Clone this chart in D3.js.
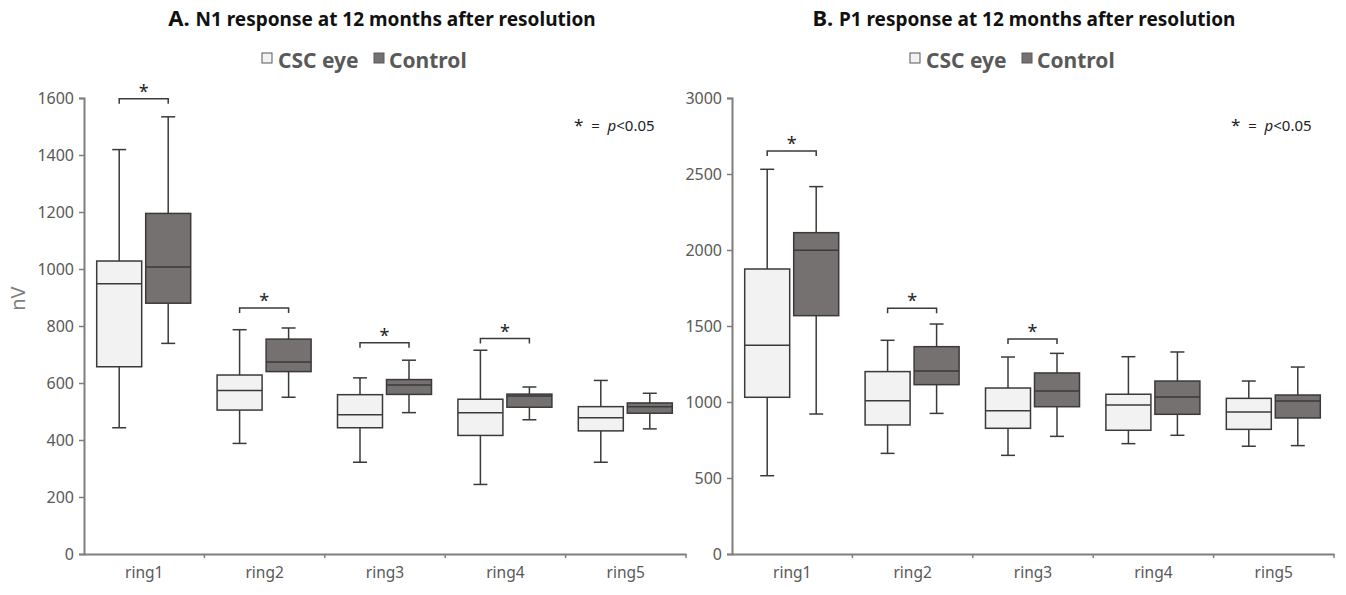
<!DOCTYPE html>
<html>
<head>
<meta charset="utf-8">
<script src="https://cdn.jsdelivr.net/npm/d3@7"></script>
<style>
  body { margin: 0; background: #fff; }
  text { font-family: "Noto Sans", "Open Sans", sans-serif; }
</style>
</head>
<body>
<svg id="chart" width="1346" height="595"></svg>
<script>
// categories
const rings = ["ring1", "ring2", "ring3", "ring4", "ring5"];

// box stats per ring: [min, q1, median, q3, max]
const n1Csc = [[443, 657, 948, 1028, 1419], [388, 505, 574, 628, 787], [322, 443, 489, 559, 618], [244, 416, 496, 543, 715], [322, 432, 478, 517, 609]];
const n1Control = [[739, 880, 1007, 1195, 1534], [550, 640, 674, 754, 793], [496, 560, 593, 612, 680], [471, 515, 554, 561, 586], [439, 494, 517, 530, 564]];
const p1Csc = [[515, 1031, 1373, 1875, 2531], [662, 849, 1009, 1200, 1406], [649, 827, 943, 1092, 1296], [726, 814, 980, 1051, 1298], [709, 820, 934, 1024, 1138]];
const p1Control = [[921, 1568, 1998, 2114, 2417], [925, 1114, 1204, 1364, 1513], [774, 969, 1072, 1191, 1320], [781, 919, 1033, 1138, 1329], [713, 895, 1007, 1046, 1230]];

// significance bracket heights (null = not significant)
const n1Sig = [1597, 863, 741, 756, null];
const p1Sig = [2651, 1616, 1414, null, null];

const n1Ticks = [0, 200, 400, 600, 800, 1000, 1200, 1400, 1600];
const p1Ticks = [0, 500, 1000, 1500, 2000, 2500, 3000];

const svg = d3.select("#chart");
const axisColor = "#7f7f7f";
const labelColor = "#595959";
const cscFill = "#f2f2f2";
const ctrlFill = "#767171";
const boxStroke = "#3a3a3a";

function drawPanel(opt) {
    const g = svg.append("g");
    const y = d3.scaleLinear().domain([0, opt.max]).range([554, 98]);
    const x = d3.scaleBand().domain(rings).range([opt.left, opt.left + 602]).padding(0);

    // title
    const title = g.append("text")
        .attr("x", opt.left + opt.titleDx).attr("y", 26)
        .attr("text-anchor", "middle")
        .attr("font-weight", "bold").attr("fill", "#111");
    title.append("tspan").attr("font-size", 22).text(opt.letter + " ");
    title.append("tspan").attr("font-size", 19).text(opt.title);

    // legend
    const lg = g.append("g").attr("transform", `translate(${opt.left + 178},61)`);
    lg.append("rect").attr("x", 0).attr("y", -8).attr("width", 10).attr("height", 10)
        .attr("fill", cscFill).attr("stroke", "#595959").attr("stroke-width", 1);
    lg.append("text").attr("x", 16).attr("y", 7).attr("font-size", 21).attr("font-weight", "bold")
        .attr("fill", labelColor).text("CSC eye");
    lg.append("rect").attr("x", 112).attr("y", -8).attr("width", 10).attr("height", 10)
        .attr("fill", ctrlFill).attr("stroke", "#595959").attr("stroke-width", 1);
    lg.append("text").attr("x", 127).attr("y", 7).attr("font-size", 21).attr("font-weight", "bold")
        .attr("fill", labelColor).text("Control");

    // y axis
    const ya = g.append("g").attr("transform", `translate(${opt.left},0)`)
        .call(d3.axisLeft(y).tickValues(opt.ticks).tickSize(5).tickPadding(5).tickFormat(d3.format("d")));
    ya.select(".domain").attr("stroke", axisColor).attr("stroke-width", 2);
    ya.selectAll(".tick line").attr("stroke", axisColor).attr("stroke-width", 1.5);
    ya.selectAll(".tick text").attr("fill", labelColor).attr("font-size", 16)
        .attr("font-family", "'Noto Sans', sans-serif");

    // x axis
    const xa = g.append("g").attr("transform", "translate(0,554)")
        .call(d3.axisBottom(x).tickSize(0).tickPadding(13));
    xa.select(".domain").attr("stroke", axisColor).attr("stroke-width", 2);
    xa.selectAll(".tick text").attr("fill", labelColor).attr("font-size", 15.5)
        .attr("font-family", "'Noto Sans', sans-serif");
    g.selectAll(".xsep").data(rings.slice(1).concat(["end"])).enter().append("line")
        .attr("x1", (d, i) => x.range()[0] + (i + 1) * x.bandwidth())
        .attr("x2", (d, i) => x.range()[0] + (i + 1) * x.bandwidth())
        .attr("y1", 554).attr("y2", 558)
        .attr("stroke", axisColor).attr("stroke-width", 1.5);

    // boxes
    const series = [
        { data: opt.csc, fill: cscFill, off: -25 },
        { data: opt.ctrl, fill: ctrlFill, off: 24 }
    ];
    const bw = 45, cap = 7;
    series.forEach(s => {
        s.data.forEach((st, i) => {
            const cx = x(rings[i]) + x.bandwidth() / 2 + s.off;
            const [mn, q1, md, q3, mx] = st;
            const bg = g.append("g").attr("stroke", boxStroke).attr("stroke-width", 1.5);
            bg.append("line").attr("x1", cx).attr("x2", cx).attr("y1", y(mx)).attr("y2", y(q3));
            bg.append("line").attr("x1", cx).attr("x2", cx).attr("y1", y(q1)).attr("y2", y(mn));
            bg.append("line").attr("x1", cx - cap).attr("x2", cx + cap).attr("y1", y(mx)).attr("y2", y(mx));
            bg.append("line").attr("x1", cx - cap).attr("x2", cx + cap).attr("y1", y(mn)).attr("y2", y(mn));
            bg.append("rect").attr("x", cx - bw / 2).attr("y", y(q3)).attr("width", bw)
                .attr("height", y(q1) - y(q3)).attr("fill", s.fill);
            bg.append("line").attr("x1", cx - bw / 2).attr("x2", cx + bw / 2)
                .attr("y1", y(md)).attr("y2", y(md));
        });
    });

    // significance brackets
    opt.sig.forEach((v, i) => {
        if (v == null) return;
        const c = x(rings[i]) + x.bandwidth() / 2;
        const x1 = c - 25, x2 = c + 24, yy = y(v);
        g.append("path")
            .attr("d", `M${x1},${yy + 5}V${yy}H${x2}V${yy + 5}`)
            .attr("fill", "none").attr("stroke", "#3a3a3a").attr("stroke-width", 1.5);
        g.append("text").attr("x", (x1 + x2) / 2).attr("y", yy - 1)
            .attr("text-anchor", "middle").attr("font-size", 18).attr("fill", "#222").text("*");
    });

    // p-value note
    const note = g.append("text").attr("x", opt.left + opt.noteDx).attr("y", 131)
        .attr("font-size", 15).attr("fill", "#222").attr("xml:space", "preserve");
    note.append("tspan").attr("font-size", 17).text("*");
    note.append("tspan").text("  =  ");
    note.append("tspan").attr("font-style", "italic").text("p");
    note.append("tspan").text("<0.05");

    if (opt.ylabel) {
        g.append("text")
            .attr("transform", `translate(25,${y((opt.max) * 0.56)}) rotate(-90)`)
            .attr("text-anchor", "middle").attr("font-size", 20).attr("fill", "#7f7f7f")
            .text(opt.ylabel);
    }
}

drawPanel({
    left: 84, max: 1600, ticks: n1Ticks, csc: n1Csc, ctrl: n1Control, sig: n1Sig,
    titleDx: 298, noteDx: 490,
    letter: "A.", title: "N1 response at 12 months after resolution", ylabel: "nV"
});
drawPanel({
    left: 732, max: 3000, ticks: p1Ticks, csc: p1Csc, ctrl: p1Control, sig: p1Sig,
    titleDx: 292, noteDx: 499,
    letter: "B.", title: "P1 response at 12 months after resolution", ylabel: null
});
</script>
</body>
</html>
